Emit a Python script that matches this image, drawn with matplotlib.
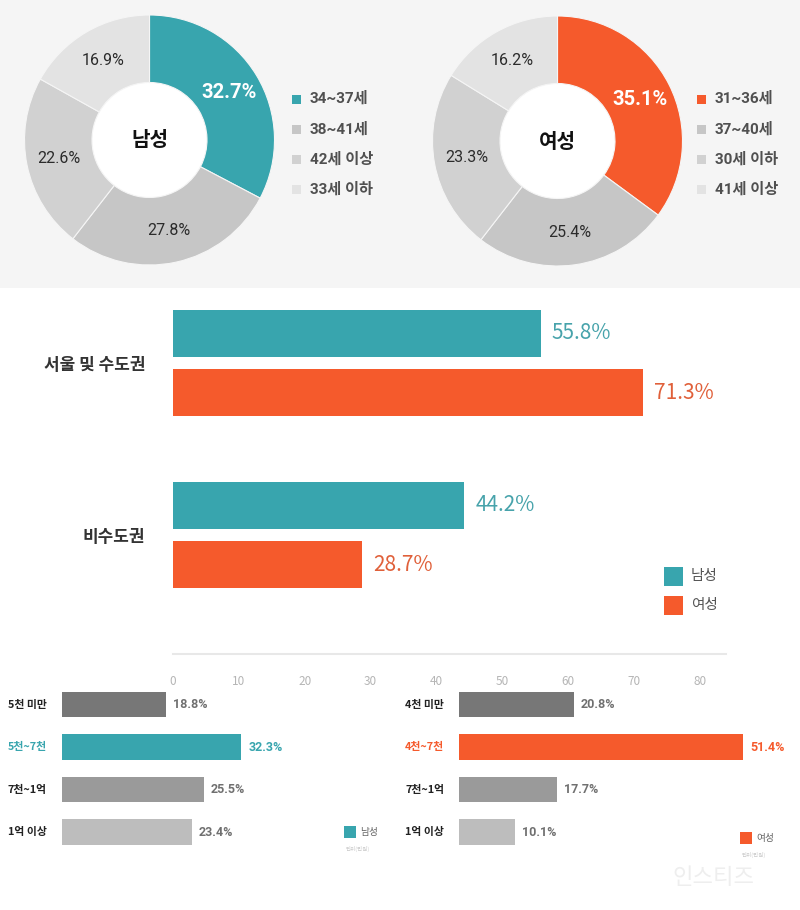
import numpy as np
import matplotlib
matplotlib.use('Agg')
import matplotlib.pyplot as plt
import matplotlib.transforms as mtransforms
from matplotlib.patches import Rectangle

plt.rcParams['font.family'] = ['Noto Sans CJK KR', 'DejaVu Sans']
mixed = ['Roboto', 'Noto Sans CJK KR', 'DejaVu Sans']

### Data
male_age_labels = ['34~37세', '38~41세', '42세 이상', '33세 이하']
male_age_vals = [32.7, 27.8, 22.6, 16.9]
female_age_labels = ['31~36세', '37~40세', '30세 이하', '41세 이상']
female_age_vals = [35.1, 25.4, 23.3, 16.2]

regions = ['서울 및 수도권', '비수도권']
region_male = [55.8, 44.2]
region_female = [71.3, 28.7]

male_inc_labels = ['5천 미만', '5천~7천', '7천~1억', '1억 이상']
male_inc_vals = [18.8, 32.3, 25.5, 23.4]
female_inc_labels = ['4천 미만', '4천~7천', '7천~1억', '1억 이상']
female_inc_vals = [20.8, 51.4, 17.7, 10.1]

### Style
teal = '#38a5ae'
orange = '#f55a2c'
bg = '#f5f5f5'
ring_greys = ['#c6c6c6', '#d1d1d1', '#e3e3e3']
bar_greys = ['#777777', None, '#9a9a9a', '#bdbdbd']

W, H = 800, 910
fig = plt.figure(figsize=(W/100, H/100), dpi=100)
fig.patch.set_facecolor('white')

def px(x, y):
    return x/W, 1 - y/H

def add_axes_px(x0, y0, x1, y1):
    # pixel box (top-left origin) -> axes
    return fig.add_axes([x0/W, 1 - y1/H, (x1-x0)/W, (y1-y0)/H])

# grey panel behind the donuts
fig.add_artist(Rectangle((0, 1 - 288/H), 1, 288/H, transform=fig.transFigure,
                         facecolor=bg, edgecolor='none', zorder=0))

###############################################################################
### Donuts
def donut(cx, cy, vals, labels, hl, center_txt, leg_x):
    r = 125
    ax = add_axes_px(cx - r, cy - r, cx + r, cy + r)
    ax.set_facecolor('none')
    cols = [hl] + ring_greys
    wedges, txts, pcts = ax.pie(vals, colors=cols, startangle=90,
                                counterclock=False, autopct='%.1f%%',
                                pctdistance=0.74, radius=1,
                                wedgeprops=dict(width=0.54, edgecolor=bg,
                                                linewidth=0.8))
    for i, t in enumerate(pcts):
        t.set_family(mixed)
        if i == 0:
            t.set_color('white')
            t.set_fontsize(14.5)
            t.set_fontweight('bold')
        else:
            t.set_color('#2b2b2b')
            t.set_fontsize(11.5)
    ax.add_patch(plt.Circle((0, 0), 0.46, color='white', zorder=0))
    ax.text(0, 0, center_txt, ha='center', va='center', fontsize=14.5,
            fontweight='bold', color='#111111')
    ax.set_xlim(-1, 1)
    ax.set_ylim(-1, 1)
    ax.set_aspect('equal')
    ax.axis('off')
    for i, lab in enumerate(labels):
        y = 99 + i*30.3
        fig.add_artist(Rectangle(px(leg_x, y + 4.5), 9/W, 9/H,
                                 transform=fig.transFigure,
                                 facecolor=cols[min(i, 3)], edgecolor='none'))
        fig.text(*px(leg_x + 18, y), lab, ha='left', va='center',
                 fontsize=11, color='#505050', fontweight='bold',
                 family=mixed)

donut(149.5, 140, male_age_vals, male_age_labels, teal, '남성', 292)
donut(557.5, 141, female_age_vals, female_age_labels, orange, '여성', 697)

###############################################################################
### Region bar chart
scale = 6.5875  # px per unit
ax2 = add_axes_px(173, 300, 173 + 84*scale, 654)
ypos = np.arange(len(regions))
off = 0.172
hgt = 0.273
ax2.barh(ypos - off, region_male, height=hgt, color=teal)
ax2.barh(ypos + off, region_female, height=hgt, color=orange)
for i in range(len(regions)):
    ax2.annotate('%.1f%%' % region_male[i], (region_male[i], ypos[i] - off),
                 xytext=(8, 0), textcoords='offset points', va='center',
                 ha='left', fontsize=15, color='#47a3ab')
    ax2.annotate('%.1f%%' % region_female[i], (region_female[i], ypos[i] + off),
                 xytext=(8, 0), textcoords='offset points', va='center',
                 ha='left', fontsize=15, color='#e0603a')
ax2.set_xlim(0, 84)
ax2.set_ylim(1.692, -0.366)
ax2.set_xticks(np.arange(0, 81, 10))
ax2.set_yticks(ypos)
ax2.set_yticklabels(regions, fontsize=12.2, color='#333333', fontweight='bold')
ax2.tick_params(axis='y', length=0, pad=20)
ax2.tick_params(axis='x', length=0, pad=15, labelsize=8.5, labelcolor='#b5b5b5')
for s in ['top', 'right', 'left']:
    ax2.spines[s].set_visible(False)
ax2.spines['bottom'].set_color('#e8e8e8')
ax2.spines['bottom'].set_linewidth(1.5)

# legend
for i, (lab, col) in enumerate([('남성', teal), ('여성', orange)]):
    y = 576 + i*29
    fig.add_artist(Rectangle(px(664, y + 9.5), 19/W, 19/H,
                             transform=fig.transFigure,
                             facecolor=col, edgecolor='none'))
    fig.text(*px(691, y), lab, ha='left', va='center', fontsize=10.5,
             color='#555555')

###############################################################################
### Income bar charts
def income(x0, sc, labels, vals, hl, lab_x, leg_x, leg_y, leg_txt):
    ax = add_axes_px(x0, 680, x0 + 300, 855)
    ax.set_facecolor('none')
    y = np.arange(len(vals))
    cols = [hl if c is None else c for c in bar_greys]
    ax.barh(y, vals, height=0.6, color=cols)
    tr = mtransforms.blended_transform_factory(fig.transFigure, ax.transData)
    for i in range(len(vals)):
        tcol = hl if i == 1 else '#222222'
        vcol = hl if i == 1 else '#707070'
        ax.text(lab_x/W, y[i], labels[i], transform=tr, ha='left',
                va='center', fontsize=7.8, fontweight='bold', color=tcol)
        ax.annotate('%.1f%%' % vals[i], (vals[i], y[i]), xytext=(5, 0),
                    textcoords='offset points', va='center', ha='left',
                    fontsize=9, fontweight='bold', color=vcol, family=mixed)
    ax.set_xlim(0, 300/sc)
    ax.set_ylim(3.54, -0.576)
    ax.axis('off')
    fig.add_artist(Rectangle(px(leg_x, leg_y + 6), 12/W, 12/H,
                             transform=fig.transFigure,
                             facecolor=hl, edgecolor='none'))
    fig.text(*px(leg_x + 16, leg_y), leg_txt, ha='left', va='center',
             fontsize=7, color='#666666')
    fig.text(*px(leg_x + 1, leg_y + 17), '단위(만원)', ha='left', va='center',
             fontsize=4, color='#c8c8c8')

income(62, 5.55, male_inc_labels, male_inc_vals, teal, 8, 344, 832, '남성')
income(459, 5.53, female_inc_labels, female_inc_vals, orange, 405, 740, 838,
       '여성')

# watermark
fig.text(*px(713, 877), '인스티즈', ha='center', va='center', fontsize=16,
         color='#eeeeee')

plt.savefig('out.png', dpi=100, facecolor='white')
